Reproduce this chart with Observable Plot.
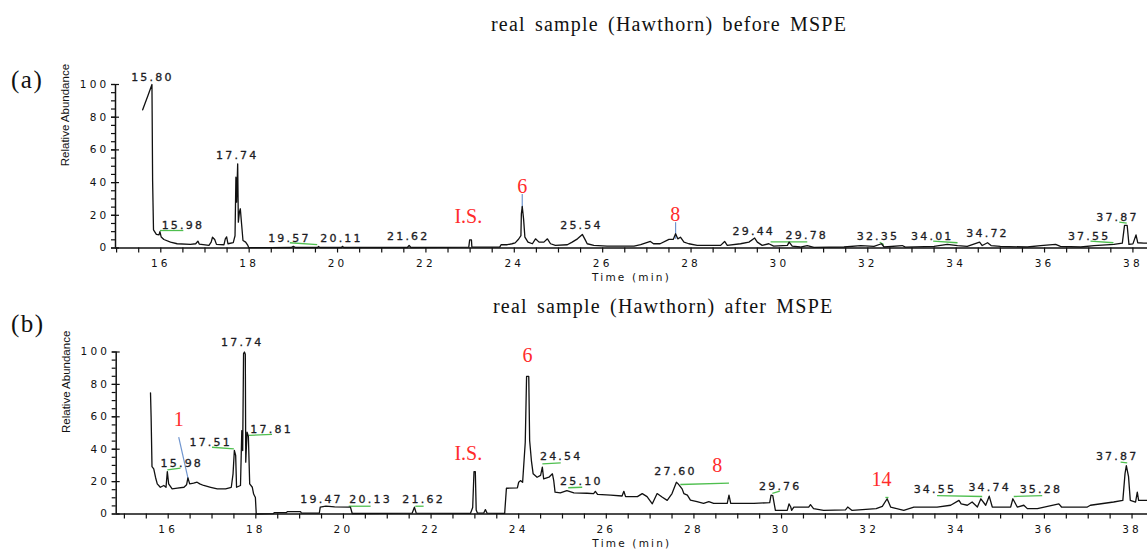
<!DOCTYPE html>
<html>
<head>
<meta charset="utf-8">
<script src="https://cdn.jsdelivr.net/npm/d3@7"></script>
<script src="https://cdn.jsdelivr.net/npm/@observablehq/plot@0.6"></script>
<style>
  body { margin: 0; background: #fff; }
  #chart { position: relative; width: 1147px; height: 551px; overflow: hidden; background: #fff; }
  #chart svg { position: absolute; left: 0; }
  #chart g[font-family="Liberation Serif"] text,
  #chart g[font-family="Liberation Sans"] text { letter-spacing: 0; }
  #chart g[aria-label="y-axis tick label"] text,
  #chart g[aria-label="x-axis tick label"] text { letter-spacing: 3.2px; }
  .title { position: absolute; font-family: "Liberation Serif"; font-size: 20px; line-height: 20px;
           letter-spacing: 1.2px; word-spacing: 3px; white-space: nowrap; color: #111; }
  .tag { position: absolute; font-family: "Liberation Serif"; font-size: 25px; line-height: 25px;
         letter-spacing: 1.5px; white-space: nowrap; color: #111; }
</style>
</head>
<body>
<div id="chart"></div>
<script>
// ---- Trace (a): hawthorn sample before MSPE ----
const timeA = [15.59, 15.64, 15.71, 15.80, 15.815, 15.835, 15.90, 15.96, 15.98, 16.01, 16.07, 16.22, 16.37, 16.67, 16.79, 16.84, 16.87,
  17.09, 17.14, 17.17, 17.22, 17.26, 17.43, 17.46, 17.49, 17.52, 17.64, 17.68, 17.70, 17.715, 17.74, 17.755, 17.78, 17.80, 17.83,
  17.86, 17.92, 17.97, 17.99, 18.50, 18.95, 19.00, 19.05, 19.55, 19.57, 19.60, 20.09, 20.11, 20.14, 21.58, 21.62, 21.66,
  22.97, 22.99, 23.03, 23.04, 23.67, 23.70, 23.84, 23.95, 24.02, 24.10, 24.15, 24.16, 24.18, 24.21, 24.24, 24.31, 24.41,
  24.48, 24.56, 24.67, 24.75, 24.82, 24.93, 25.20, 25.31, 25.43, 25.54, 25.60, 25.65, 25.80, 26.10, 26.71, 26.86, 27.08,
  27.15, 27.30, 27.50, 27.60, 27.65, 27.70, 27.76, 27.84, 27.95, 28.14, 28.67, 28.76, 28.82, 29.12, 29.31, 29.44, 29.50,
  29.61, 29.76, 29.87, 30.18, 30.22, 30.29, 30.47, 30.63, 30.78, 31.46, 31.84, 32.14, 32.31, 32.37, 32.78, 32.85, 33.50,
  33.80, 34.03, 34.25, 34.53, 34.59, 34.71, 34.79, 35.00, 35.61, 35.91, 36.25, 36.36, 36.82, 37.12, 37.57, 37.76, 37.81,
  37.87, 37.91, 38.00, 38.07, 38.11, 38.25, 38.33];
const abundA = [84.5, 88.2, 93.3, 100, 41, 11.1, 8.3, 8.0, 10.0, 6.7, 5.2, 3.6, 2.6, 2.2, 2.6, 4.2, 2.4,
  1.6, 3.6, 6.6, 5.2, 2.2, 2.0, 5.6, 6.8, 2.6, 3.3, 7.5, 43.3, 28, 51.5, 15.8, 22, 24.0, 14.2,
  4.6, 3.6, 1.6, 0.2, 0.2, 0.3, 1.0, 0.3, 0.3, 0.9, 0.3, 0.3, 1.0, 0.3, 0.3, 1.6, 0.3,
  0.5, 5.0, 5.0, 0.5, 0.5, 2.0, 2.0, 2.6, 3.1, 5.5, 7.5, 20.9, 25.4, 17.8, 6.6, 3.6, 2.6,
  5.6, 3.6, 3.6, 5.6, 2.6, 1.6, 2.0, 3.6, 5.6, 8.3, 5.3, 2.6, 1.6, 1.2, 1.2, 2.0, 4.0,
  2.6, 2.6, 5.3, 5.3, 8.7, 5.6, 6.6, 3.6, 2.6, 1.6, 1.6, 4.0, 1.6, 2.6, 3.6, 6.1, 3.6,
  1.6, 2.6, 1.2, 1.6, 3.6, 1.2, 0.6, 1.5, 0.4, 0.6, 1.5, 1.0, 2.6, 0.6, 1.5, 0.5, 1.0,
  2.2, 1.5, 1.0, 3.6, 1.5, 3.2, 1.5, 1.0, 0.6, 1.5, 2.2, 1.0, 0.6, 1.5, 2.2, 3.0, 13.8,
  13.8, 2.2, 2.5, 8.0, 3.2, 3.0, 3.0];

// ---- Trace (b): hawthorn sample after MSPE ----
const timeB = [15.596, 15.61, 15.63, 15.67, 15.71, 15.75, 15.82, 15.90, 15.95, 15.98, 16.01, 16.09, 16.21, 16.36, 16.42, 16.45,
  16.49, 16.58, 16.66, 16.72, 16.81, 16.97, 17.12, 17.31, 17.44, 17.48, 17.51, 17.54, 17.56, 17.65, 17.68, 17.70, 17.72,
  17.74, 17.76, 17.77, 17.80, 17.83, 17.86, 17.92, 17.95, 17.99, 18.01, 18.40, 18.42, 18.70, 18.72, 19.02, 19.04, 19.45,
  19.47, 19.60, 19.80, 20.16, 20.20, 21.57, 21.62, 21.66, 22.90, 22.95, 22.98, 23.01, 23.03, 23.06, 23.20, 23.24, 23.28,
  23.68, 23.72, 23.97, 24.00, 24.04, 24.09, 24.15, 24.18, 24.23, 24.25, 24.29, 24.33, 24.42, 24.50, 24.54, 24.57, 24.69,
  24.77, 24.80, 24.83, 24.95, 25.10, 25.26, 25.56, 25.71, 25.75, 25.80, 26.10, 26.36, 26.40, 26.44, 26.71, 26.82, 26.93,
  27.05, 27.16, 27.28, 27.39, 27.50, 27.60, 27.64, 27.73, 27.77, 27.85, 27.92, 28.07, 28.22, 28.34, 28.45, 28.76, 28.80,
  28.84, 29.37, 29.73, 29.76, 29.80, 29.82, 29.86, 30.13, 30.17, 30.21, 30.23, 30.28, 30.62, 30.66, 30.73, 30.96, 31.46,
  31.51, 31.61, 32.16, 32.30, 32.41, 32.49, 32.79, 33.02, 33.55, 33.86, 34.05, 34.10, 34.24, 34.35, 34.47, 34.55, 34.66,
  34.74, 34.81, 35.23, 35.28, 35.38, 35.53, 35.61, 35.84, 36.33, 36.39, 36.98, 37.05, 37.58, 37.79, 37.84, 37.87, 37.92,
  37.96, 38.08, 38.12, 38.15, 38.36];
const abundB = [74.8, 59.8, 29.3, 27.9, 22.7, 18.6, 16.5, 17.6, 16.5, 26.2, 18.6, 15.5, 16.0, 16.5, 18.1, 22.3,
  18.6, 19.0, 19.6, 18.6, 17.6, 16.5, 15.5, 15.5, 16.5, 24.8, 39.2, 36.1, 16.5, 17.6, 51.5, 39.2, 99,
  100, 98.6, 32, 50.5, 48, 18.6, 16.5, 12.3, 10.2, 0, 0.2, 0.8, 0.9, 1.5, 1.5, 0.6, 0.6,
  4.2, 4.8, 4.4, 4.2, 0.3, 0.6, 4.2, 0.6, 0.4, 4.0, 26.2, 26.2, 2.5, 0.5, 0.5, 2.7, 0.5,
  0.4, 15.9, 16.1, 19.6, 20.6, 19.6, 44.3, 84.9, 84.9, 45.4, 33, 24.8, 22.7, 23.8, 28.9, 21.7, 22.7,
  24.8, 20.6, 13.5, 13.0, 14.4, 13.0, 12.8, 12.6, 14.0, 12.1, 11.7, 11.1, 14.0, 10.7, 10.7, 12.6, 10.7,
  6.3, 12.6, 10.3, 8.4, 12.6, 19.6, 18.6, 15.5, 12.6, 11.7, 8.6, 7.6, 6.6, 7.6, 6.6, 6.6, 11.7,
  6.6, 6.6, 7.0, 11.7, 11.4, 8.3, 2.2, 2.2, 6.3, 4.3, 2.2, 4.3, 4.3, 5.8, 3.3, 2.2, 2.6,
  4.3, 2.2, 3.3, 4.7, 9.4, 4.3, 2.2, 4.3, 4.3, 5.4, 8.4, 6.3, 5.4, 7.4, 4.3, 9.4, 5.4,
  11, 4.3, 4.3, 9.4, 4.3, 5.4, 3.3, 3.3, 6.3, 4.3, 4.3, 5.4, 7.4, 8.4, 24.9, 29.9, 23.1,
  8.4, 7.4, 13.5, 8.4, 8.4];

// ---- Axis ticks ----
const xMinorTicks = d3.range(15, 38.5, 0.5);
const xTickLabels = [16, 18, 20, 22, 24, 26, 28, 30, 32, 34, 36, 38];
const yTickLabels = [0, 20, 40, 60, 80, 100];
const yMinorTicks = d3.range(0, 101, 5);

// ---- Annotations (a): retention times and where their labels sit (time, abundance) ----
const peakTimesA = [15.80, 15.98, 17.74, 19.57, 20.11, 21.62, 25.54, 29.44, 29.78, 32.35, 34.01, 34.72, 37.55, 37.87];
const peakLabelTA = [15.81, 16.50, 17.73, 18.91, 20.09, 21.60, 25.52, 29.42, 30.62, 32.23, 33.46, 34.71, 37.01, 37.65];
const peakLabelVA = [102.4, 11.7, 54.6, 3.5, 3.5, 4.6, 11.7, 8.1, 5.2, 4.6, 4.6, 6.6, 5.0, 16.8];
const compoundsA = ["I.S.", "6", "8"];
const compoundTA = [22.96, 24.18, 27.64];
const compoundVA = [15.2, 33.5, 16.4];
const leadersA = [[24.18, 33.0, 24.18, 24.5], [27.65, 15.8, 27.65, 5.6]];
const underlinesA = [[15.98, 10.7, 16.51, 10.7], [18.92, 3.2, 19.54, 2.1], [29.80, 3.8, 30.63, 3.8], [32.27, 3.5, 32.36, 2.1],
  [33.48, 4.2, 34.03, 3.2], [37.04, 4.2, 37.56, 3.2], [37.69, 15.8, 37.86, 15.2]];

// ---- Annotations (b) ----
const peakTimesB = [15.98, 17.51, 17.74, 17.81, 19.47, 20.13, 21.62, 24.54, 25.10, 27.60, 29.76, 34.55, 34.74, 35.28, 37.87];
const peakLabelTB = [16.31, 16.97, 17.69, 18.36, 19.50, 20.62, 21.83, 24.97, 25.43, 27.58, 29.97, 33.50, 34.75, 35.92, 37.66];
const peakLabelVB = [29.3, 41.7, 103.4, 50.3, 6.5, 6.5, 6.5, 33.6, 18.2, 23.8, 15.1, 12.7, 14.5, 12.7, 33.6];
const compoundsB = ["1", "I.S.", "6", "8", "14"];
const compoundTB = [16.24, 22.85, 24.20, 28.53, 32.28];
const compoundVB = [54.6, 33.6, 94.1, 26.2, 17.0];
const leadersB = [[16.24, 47.4, 16.46, 21.1]];
const underlinesB = [[15.98, 27.3, 16.28, 28.3], [17.00, 41.2, 17.50, 40.2], [17.84, 48.5, 18.37, 49.1], [20.12, 4.8, 20.62, 4.8],
  [21.64, 4.8, 21.83, 4.8], [24.54, 31.0, 24.96, 31.6], [25.13, 16.2, 25.45, 16.5], [27.69, 18.2, 28.80, 19.0],
  [29.79, 12.8, 29.96, 14.1], [32.37, 10.2, 32.44, 10.2], [33.55, 11.4, 34.58, 10.8], [35.30, 10.8, 35.95, 11.4],
  [37.74, 32.0, 37.89, 31.6]];

const titles = ["real sample (Hawthorn) before MSPE", "real sample (Hawthorn) after MSPE"];
const panelTags = ["(a)", "(b)"];

function chromatogram(p) {
  const trace = p.time.map((t, i) => ({t, v: p.abund[i]}));
  const peaks = p.peakTimes.map((t, i) => ({text: t.toFixed(2), t: p.labelT[i], v: p.labelV[i]}));
  const compounds = p.compounds.map((text, i) => ({text, t: p.compoundT[i], v: p.compoundV[i]}));
  const seg = (rows) => rows.map(([t1, v1, t2, v2]) => ({t1, v1, t2, v2}));
  return Plot.plot({
    width: 1147,
    height: p.height,
    marginLeft: p.marginLeft,
    marginRight: 0,
    marginTop: p.marginTop,
    marginBottom: 37.5,
    x: {domain: p.xDomain},
    y: {domain: [0, 100]},
    style: {fontFamily: "DejaVu Sans", fontSize: "10.5px", letterSpacing: "2.2px", color: "#111", background: "transparent", overflow: "visible"},
    marks: [
      Plot.axisY({ticks: yMinorTicks, tickSize: 4, tickFormat: () => "", label: null, strokeWidth: 1.2}),
      Plot.axisY({ticks: yTickLabels, tickSize: 8, tickPadding: 2, dx: 4, label: null, strokeWidth: 1.2}),
      Plot.axisX({ticks: xMinorTicks, tickSize: 5, tickPadding: 7, label: null, strokeWidth: 1.2,
        tickFormat: (d) => xTickLabels.includes(d) ? String(d) : ""}),
      Plot.ruleX([p.xDomain[0]], {y1: 0, y2: 100, stroke: "#111", strokeWidth: 1.5}),
      Plot.ruleY([0], {stroke: "#111", strokeWidth: 1.5}),
      Plot.link(seg(p.underlines), {x1: "t1", y1: "v1", x2: "t2", y2: "v2", stroke: "#4fbf4f", strokeWidth: 1.3}),
      Plot.link(seg(p.leaders), {x1: "t1", y1: "v1", x2: "t2", y2: "v2", stroke: "#6f95cf", strokeWidth: 1.2}),
      Plot.line(trace, {x: "t", y: "v", stroke: "#111", strokeWidth: 1.3}),
      Plot.text(peaks, {x: "t", y: "v", text: "text", lineAnchor: "bottom", fontSize: 11, fill: "#1c1c24",
        stroke: "#1c1c24", strokeWidth: 0.3}),
      Plot.text(compounds, {x: "t", y: "v", text: "text", lineAnchor: "bottom", fontFamily: "Liberation Serif", fontSize: 20, fill: "#ff2b2b"}),
      Plot.text(["Relative Abundance"], {frameAnchor: "left", rotate: -90, dx: -50, lineAnchor: "middle",
        fontFamily: "Liberation Sans", fontSize: 11.5, fill: "#111"}),
      Plot.text(["Time (min)"], {frameAnchor: "bottom", dy: 33, lineAnchor: "bottom", fontSize: 10.5, fill: "#111"})
    ]
  });
}

const chart = document.getElementById("chart");

const svgA = chromatogram({
  time: timeA, abund: abundA, xDomain: [14.975, 38.33], marginLeft: 115, marginTop: 84, height: 285,
  peakTimes: peakTimesA, labelT: peakLabelTA, labelV: peakLabelVA,
  compounds: compoundsA, compoundT: compoundTA, compoundV: compoundVA,
  leaders: leadersA, underlines: underlinesA
});
svgA.style.top = "0px";
chart.appendChild(svgA);

const svgB = chromatogram({
  time: timeB, abund: abundB, xDomain: [14.813, 38.353], marginLeft: 115.7, marginTop: 66.5, height: 266,
  peakTimes: peakTimesB, labelT: peakLabelTB, labelV: peakLabelVB,
  compounds: compoundsB, compoundT: compoundTB, compoundV: compoundVB,
  leaders: leadersB, underlines: underlinesB
});
svgB.style.top = "285px";
chart.appendChild(svgB);

// Panel titles and (a)/(b) tags
[[titles[0], 491, 14.3], [titles[1], 493, 295.8]].forEach(([text, left, top]) => {
  const d = document.createElement("div");
  d.className = "title";
  d.textContent = text;
  d.style.left = left + "px";
  d.style.top = top + "px";
  chart.appendChild(d);
});
[[panelTags[0], 11, 66.6], [panelTags[1], 11, 311.1]].forEach(([text, left, top]) => {
  const d = document.createElement("div");
  d.className = "tag";
  d.textContent = text;
  d.style.left = left + "px";
  d.style.top = top + "px";
  chart.appendChild(d);
});
</script>
</body>
</html>
